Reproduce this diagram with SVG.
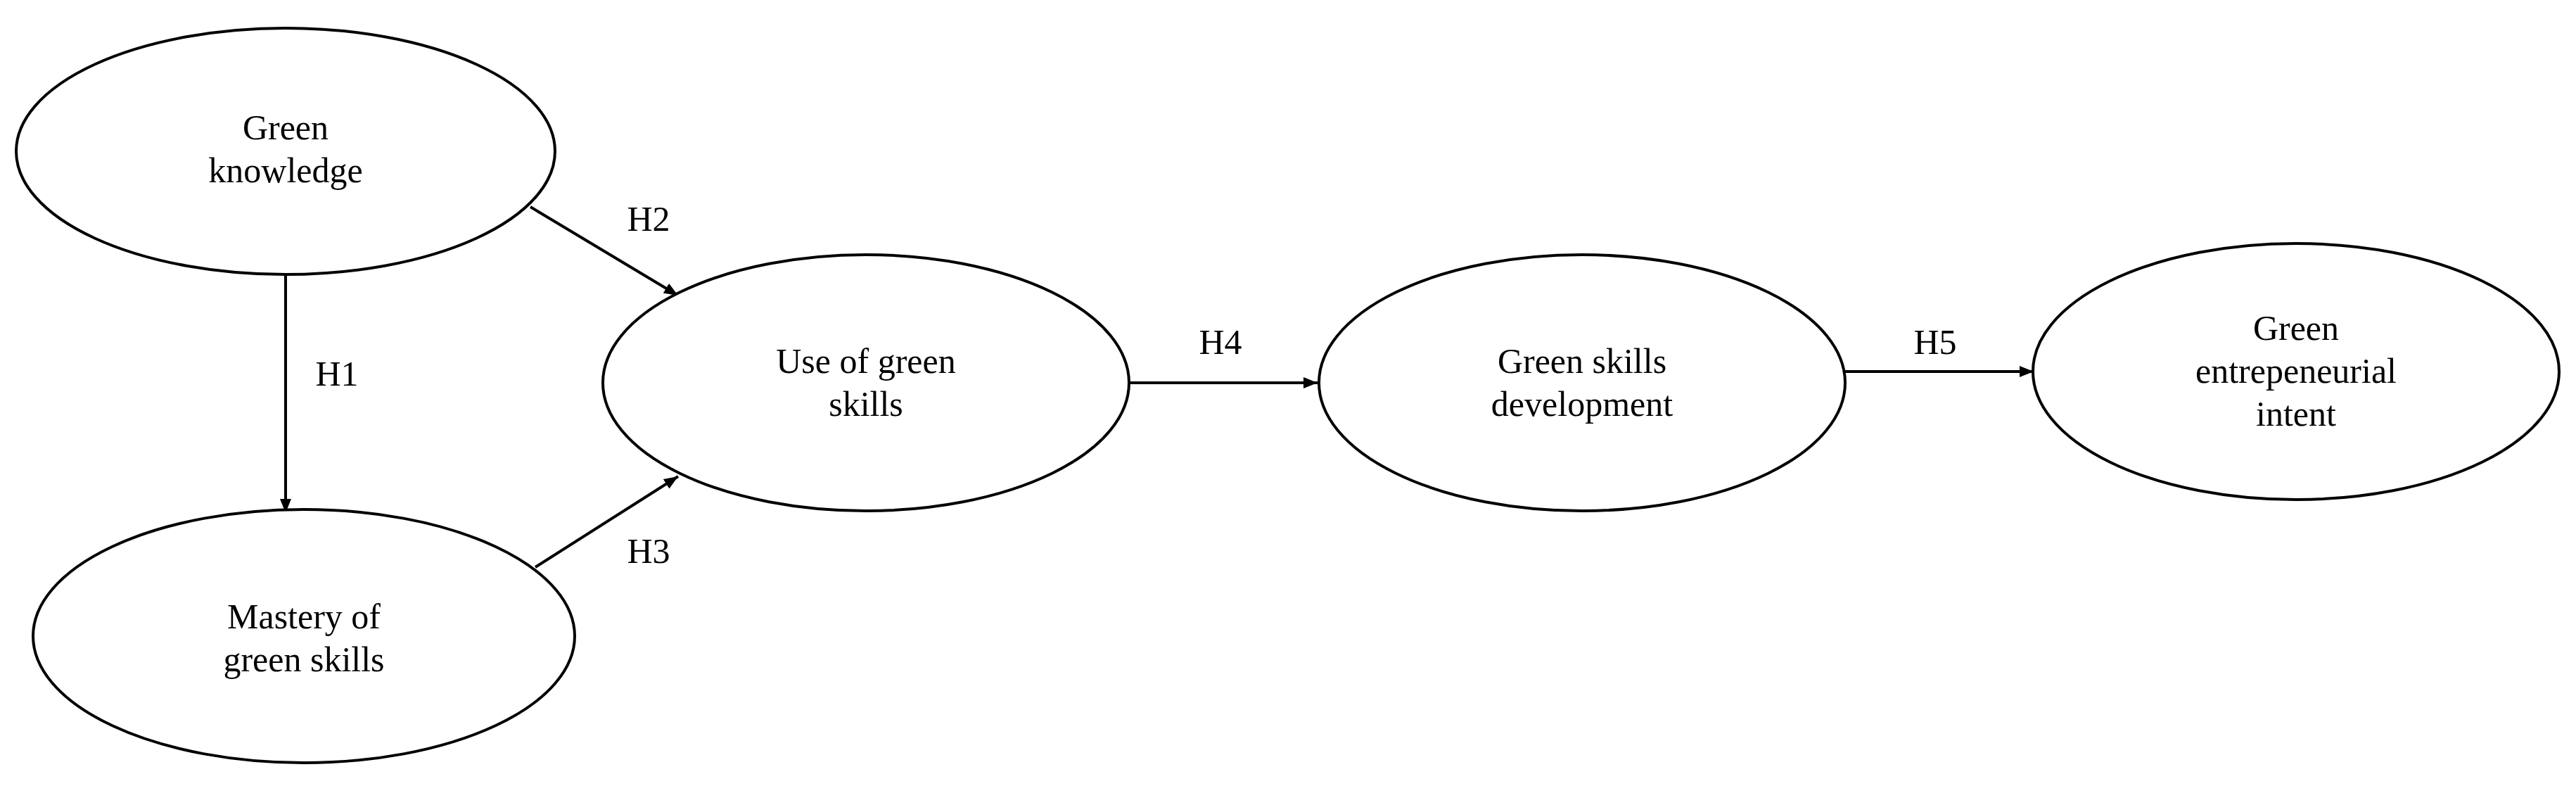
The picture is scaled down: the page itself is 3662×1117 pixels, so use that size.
<svg xmlns="http://www.w3.org/2000/svg" width="3662" height="1117" viewBox="0 0 3662 1117">
<style>
.n{fill:#fff;stroke:#000;stroke-width:4}
.t{font-family:"Liberation Serif","DejaVu Serif",serif;font-size:50px;fill:#000;text-anchor:middle}
.c{stroke:#000;stroke-width:4;fill:none;marker-end:url(#a)}
</style>
<defs><marker id="a" viewBox="0 0 10 10" refX="10" refY="5" markerWidth="5" markerHeight="5" orient="auto" markerUnits="strokeWidth"><path d="M0,1 L10,5 L0,9 z" fill="#000"/></marker></defs>
<rect width="3662" height="1117" fill="#fff"/>
<g id="connectors">
<line class="c" x1="406" y1="392" x2="406" y2="729"/>
<line class="c" x1="754" y1="294" x2="964" y2="420"/>
<line class="c" x1="761" y1="806" x2="964" y2="677"/>
<line class="c" x1="1607" y1="544" x2="1873" y2="544"/>
<line class="c" x1="2622" y1="528" x2="2891" y2="528"/>
<text class="t" x="479" y="548">H1</text>
<text class="t" x="922" y="328">H2</text>
<text class="t" x="922" y="800">H3</text>
<text class="t" x="1735" y="503">H4</text>
<text class="t" x="2751" y="503">H5</text>
</g>
<g id="n1"><ellipse class="n" cx="406" cy="215" rx="383" ry="175"/><text class="t" x="406" y="198">Green</text><text class="t" x="406" y="259">knowledge</text></g>
<g id="n2"><ellipse class="n" cx="432" cy="904" rx="385" ry="180"/><text class="t" x="432" y="893">Mastery of</text><text class="t" x="432" y="954">green skills</text></g>
<g id="n3"><ellipse class="n" cx="1231" cy="544" rx="374" ry="182"/><text class="t" x="1231" y="530">Use of green</text><text class="t" x="1231" y="591">skills</text></g>
<g id="n4"><ellipse class="n" cx="2249" cy="544" rx="374" ry="182"/><text class="t" x="2249" y="530">Green skills</text><text class="t" x="2249" y="591">development</text></g>
<g id="n5"><ellipse class="n" cx="3264" cy="528" rx="374" ry="182"/><text class="t" x="3264" y="483">Green</text><text class="t" x="3264" y="544">entrepeneurial</text><text class="t" x="3264" y="605">intent</text></g>
</svg>
